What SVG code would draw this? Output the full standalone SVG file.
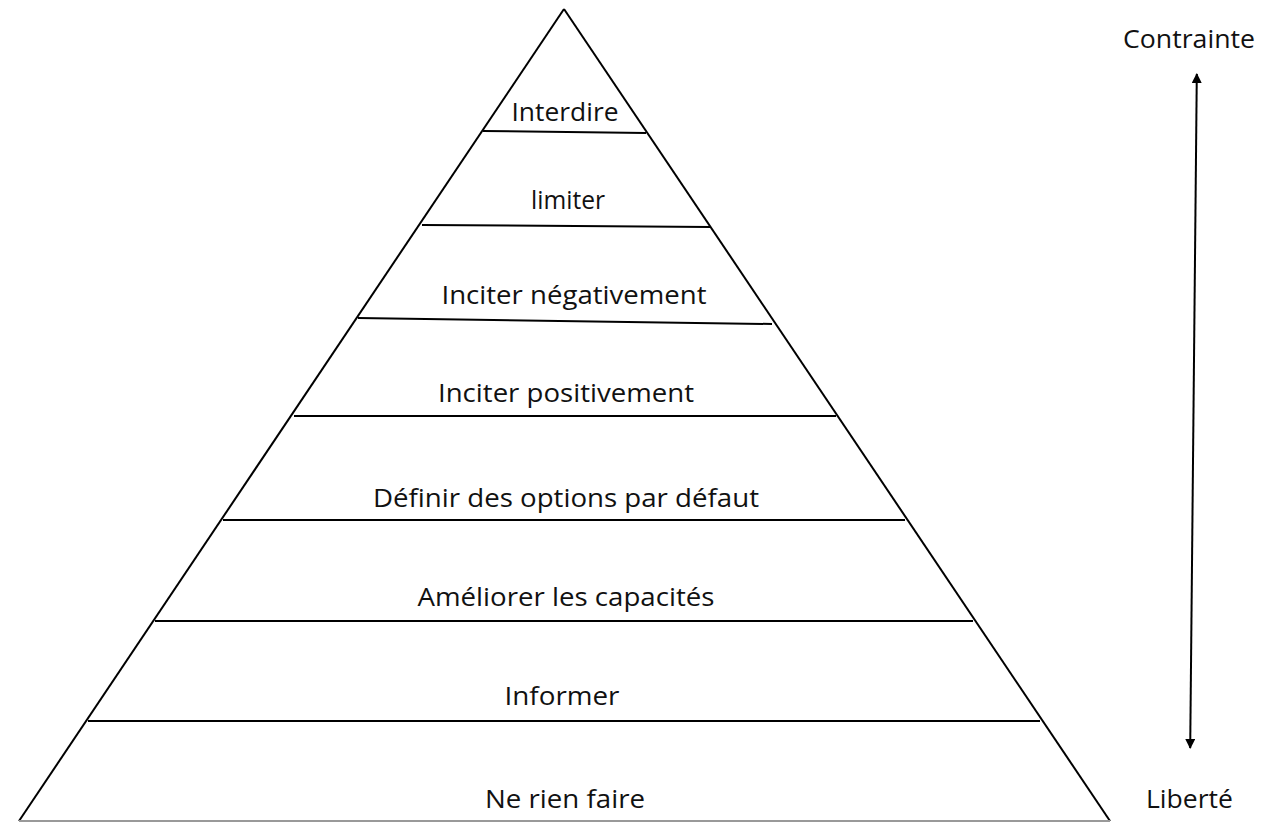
<svg xmlns="http://www.w3.org/2000/svg" width="1261" height="822" viewBox="0 0 1261 822">
  <defs>
    <marker id="arrowhead" viewBox="0 0 10 10" refX="9" refY="5" markerWidth="5.5" markerHeight="5" orient="auto-start-reverse" markerUnits="strokeWidth">
      <path d="M0,0 L10,5 L0,10 Z" fill="#000"/>
    </marker>
    <style>
      .edge { stroke: #000; stroke-width: 2; fill: none; }
      .label { font-family: "Open Sans", "Noto Sans", "Liberation Sans", sans-serif; font-size: 26px; fill: #111; text-anchor: middle; }
      .side { font-family: "Open Sans", "Noto Sans", "Liberation Sans", sans-serif; font-size: 26px; fill: #111; }
    </style>
  </defs>
  <rect width="1261" height="822" fill="#fff"/>

  <!-- pyramid outline and level dividers -->
  <g id="connectors">
    <line class="edge" x1="564" y1="9" x2="19" y2="821"/>
    <line class="edge" x1="564" y1="9" x2="1110" y2="821"/>
    <line x1="19" y1="821" x2="1110" y2="821" stroke="#999" stroke-width="2"/>
    <line class="edge" x1="483" y1="131" x2="646" y2="133"/>
    <line class="edge" x1="422" y1="225" x2="710" y2="227"/>
    <line class="edge" x1="358" y1="318" x2="772" y2="324"/>
    <line class="edge" x1="294" y1="416" x2="836" y2="416"/>
    <line class="edge" x1="223" y1="520" x2="905" y2="520"/>
    <line class="edge" x1="155" y1="621" x2="973" y2="621"/>
    <line class="edge" x1="88" y1="721" x2="1040" y2="721"/>
    <!-- constraint / freedom scale -->
    <line class="edge" x1="1196.8" y1="74" x2="1190.2" y2="748" marker-start="url(#arrowhead)" marker-end="url(#arrowhead)"/>
  </g>

  <g id="level-interdire"><text class="label" x="565" y="121" textLength="107" lengthAdjust="spacingAndGlyphs">Interdire</text></g>
  <g id="level-limiter"><text class="label" x="568" y="209" textLength="74" lengthAdjust="spacingAndGlyphs">limiter</text></g>
  <g id="level-inciter-negativement"><text class="label" x="574" y="304" textLength="265" lengthAdjust="spacingAndGlyphs">Inciter négativement</text></g>
  <g id="level-inciter-positivement"><text class="label" x="566" y="402" textLength="256" lengthAdjust="spacingAndGlyphs">Inciter positivement</text></g>
  <g id="level-definir"><text class="label" x="566" y="507" textLength="386" lengthAdjust="spacingAndGlyphs">Définir des options par défaut</text></g>
  <g id="level-ameliorer"><text class="label" x="566" y="606" textLength="297" lengthAdjust="spacingAndGlyphs">Améliorer les capacités</text></g>
  <g id="level-informer"><text class="label" x="562" y="705" textLength="115" lengthAdjust="spacingAndGlyphs">Informer</text></g>
  <g id="level-ne-rien-faire"><text class="label" x="565" y="808" textLength="160" lengthAdjust="spacingAndGlyphs">Ne rien faire</text></g>

  <g id="label-contrainte"><text class="side" x="1123" y="48" textLength="132" lengthAdjust="spacingAndGlyphs">Contrainte</text></g>
  <g id="label-liberte"><text class="side" x="1146" y="808" textLength="87" lengthAdjust="spacingAndGlyphs">Liberté</text></g>
</svg>
